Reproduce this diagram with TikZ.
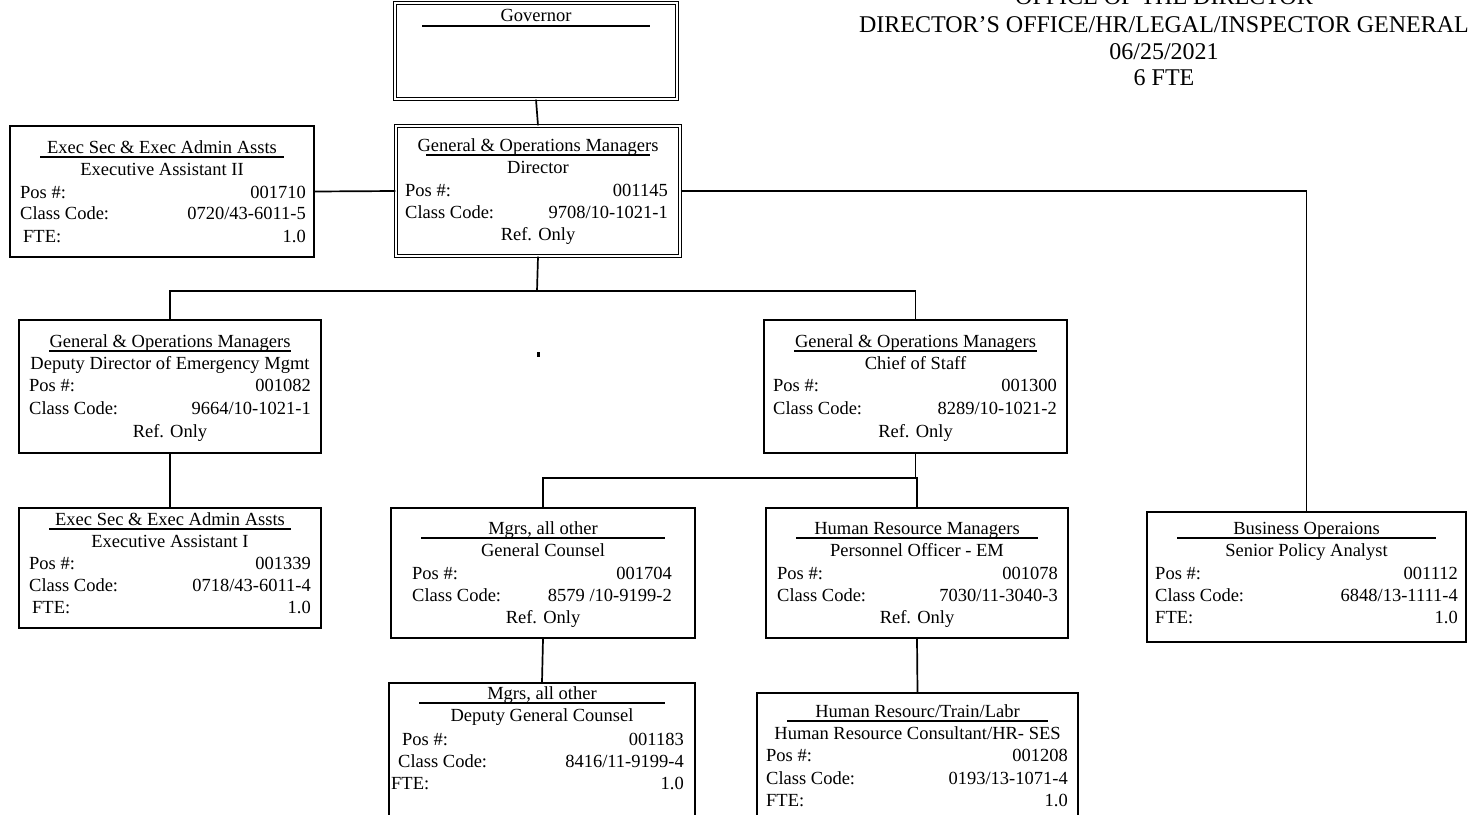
\documentclass[tikz,border=0pt]{standalone}
\usepackage{fontspec}
\setmainfont{Liberation Serif}
\usetikzlibrary{fit,calc}

\newcommand\boxfont{\fontsize{18.5}{22}\selectfont}
\newcommand\hdfont{\fontsize{24}{27}\selectfont}

% card frame: name, left, top, right, bottom (pixel-like units, y downwards)
\newcommand\orgcard[6][card]{%
  \gdef\xa{#3}\gdef\xb{#5}%
  \path (#3,#4) coordinate (#2-nw) (#5,#6) coordinate (#2-se);
  \node[#1, fit=(#2-nw)(#2-se)] (#2) {};}
% centred line of text
\newcommand\ctr[3]{\node[txt] (#1) at ({(\xa+\xb)/2},#2) {#3};}
% title with a rule beneath it, then the job title
\newcommand\head[4]{%
  \ctr{#1-title}{#2}{#3}
  \draw[rule] ({\xa+30},{#2+10}) -- ({\xb-30},{#2+10});
  \ctr{#1-job}{#2+22}{#4}}
% label on the left, value on the right
\newcommand\lr[6]{%
  \node[txt, anchor=west] (#1-l) at ({\xa+#5},#2) {#3};
  \node[txt, anchor=east] (#1-r) at ({\xb-#6},#2) {#4};}

\begin{document}
\begin{tikzpicture}[x=1pt,y=-1pt,
  card/.style={draw, line width=1.7pt, inner sep=0pt},
  dcard/.style={draw, line width=1.3pt, double, double distance=2.2pt, inner sep=0pt},
  txt/.style={inner sep=0pt, font=\boxfont, text height=13pt, text depth=0pt},
  hd/.style={inner sep=0pt, font=\hdfont, text height=16pt, text depth=0pt},
  rule/.style={line width=1.5pt},
  link/.style={line width=1.7pt}]
\useasboundingbox (0,0) rectangle (1474,814);
\fill[white] (0,0) rectangle (1474,814);
\clip (0,0) rectangle (1474,814);

% heading, top right
\node[hd] (hd1) at (1164,-4) {OFFICE OF THE DIRECTOR};
\node[hd] (hd2) at (1164,24) {DIRECTOR’S OFFICE/HR/LEGAL/INSPECTOR GENERAL};
\node[hd] (hd3) at (1164,51) {06/25/2021};
\node[hd] (hd4) at (1164,77) {6 FTE};

% Governor
\orgcard[dcard]{gov}{395}{3}{677}{99}
\ctr{gov-title}{15}{Governor}
\draw[rule] (422,26) -- (650,26);

% Director
\orgcard[dcard]{dir}{396}{126}{680}{256}
\head{dir}{145}{General \& Operations Managers}{Director}
\lr{dir-pos}{190}{Pos \#:}{001145}{9}{12}
\lr{dir-cc}{212}{Class Code:}{9708/10-1021-1}{9}{12}
\ctr{dir-ref}{234}{Ref. Only}

% Executive Assistant II
\orgcard{ea2}{10}{126}{314}{257}
\head{ea2}{147}{Exec Sec \& Exec Admin Assts}{Executive Assistant II}
\lr{ea2-pos}{192}{Pos \#:}{001710}{10}{8}
\lr{ea2-cc}{213}{Class Code:}{0720/43-6011-5}{10}{8}
\lr{ea2-fte}{236}{FTE:}{1.0}{13}{8}

% Deputy Director of Emergency Mgmt
\orgcard{dd}{19}{320}{321}{453}
\head{dd}{341}{General \& Operations Managers}{Deputy Director of Emergency Mgmt}
\lr{dd-pos}{385}{Pos \#:}{001082}{10}{10}
\lr{dd-cc}{408}{Class Code:}{9664/10-1021-1}{10}{10}
\ctr{dd-ref}{431}{Ref. Only}

% Chief of Staff
\orgcard{cos}{764}{320}{1067}{453}
\head{cos}{341}{General \& Operations Managers}{Chief of Staff}
\lr{cos-pos}{385}{Pos \#:}{001300}{9}{10}
\lr{cos-cc}{408}{Class Code:}{8289/10-1021-2}{9}{10}
\ctr{cos-ref}{431}{Ref. Only}

% Executive Assistant I
\orgcard{ea1}{19}{508}{321}{628}
\head{ea1}{519}{Exec Sec \& Exec Admin Assts}{Executive Assistant I}
\lr{ea1-pos}{563}{Pos \#:}{001339}{10}{10}
\lr{ea1-cc}{585}{Class Code:}{0718/43-6011-4}{10}{10}
\lr{ea1-fte}{607}{FTE:}{1.0}{13}{10}

% General Counsel
\orgcard{gc}{391}{508}{695}{638}
\head{gc}{528}{Mgrs, all other}{General Counsel}
\lr{gc-pos}{573}{Pos \#:}{001704}{21}{23}
\lr{gc-cc}{595}{Class Code:}{8579 /10-9199-2}{21}{23}
\ctr{gc-ref}{617}{Ref. Only}

% Personnel Officer
\orgcard{po}{766}{508}{1068}{638}
\head{po}{528}{Human Resource Managers}{Personnel Officer - EM}
\lr{po-pos}{573}{Pos \#:}{001078}{11}{10}
\lr{po-cc}{595}{Class Code:}{7030/11-3040-3}{11}{10}
\ctr{po-ref}{617}{Ref. Only}

% Senior Policy Analyst
\orgcard{spa}{1147}{512}{1466}{642}
\head{spa}{528}{Business Operaions}{Senior Policy Analyst}
\lr{spa-pos}{573}{Pos \#:}{001112}{8}{8}
\lr{spa-cc}{595}{Class Code:}{6848/13-1111-4}{8}{8}
\lr{spa-fte}{617}{FTE:}{1.0}{8}{8}

% Deputy General Counsel
\orgcard{dgc}{389}{683}{695}{830}
\head{dgc}{693}{Mgrs, all other}{Deputy General Counsel}
\lr{dgc-pos}{739}{Pos \#:}{001183}{13}{11}
\lr{dgc-cc}{761}{Class Code:}{8416/11-9199-4}{9}{11}
\lr{dgc-fte}{783}{FTE:}{1.0}{2}{11}

% Human Resource Consultant
\orgcard{hrc}{757}{693}{1078}{830}
\head{hrc}{711}{Human Resourc/Train/Labr}{Human Resource Consultant/HR- SES}
\lr{hrc-pos}{755}{Pos \#:}{001208}{9}{10}
\lr{hrc-cc}{778}{Class Code:}{0193/13-1071-4}{9}{10}
\lr{hrc-fte}{800}{FTE:}{1.0}{9}{10}

% reporting lines
\coordinate (bus1) at (537,291);
\coordinate (bus2) at (915.5,478);
\draw[link] (gov.south) -- (dir.north);
\draw[link] (ea2.east) -- (dir.west);
\draw[link] (dir.east) -| (spa.north);
\draw[link] (dir.south) -- (bus1);
\draw[link] (dd.north) |- (bus1) -| (cos.north);
\draw[link] (dd.south) -- (ea1.north);
\draw[link] (cos.south) -- (bus2);
\draw[link] (gc.north) |- (bus2) -| (po.north);
\draw[link] (gc.south) -- (dgc.north);
\draw[link] (po.south) -- (hrc.north);

% small stray mark
\fill (537,352) rectangle (539.5,357);
\end{tikzpicture}
\end{document}
